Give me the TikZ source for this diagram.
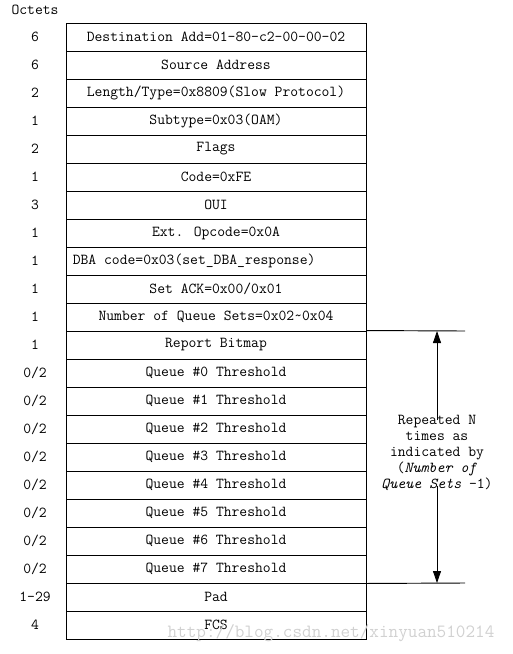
\documentclass[tikz,border=0pt]{standalone}
\usetikzlibrary{arrows.meta}
\begin{document}
\begin{tikzpicture}[x=0.75pt,y=-0.75pt,
  lbl/.style={font=\fontsize{11.4}{12}\ttfamily, inner sep=0pt},
  field/.style={draw=black, line width=0.7pt, minimum width=225pt, minimum height=21pt, inner sep=0pt, font=\fontsize{11.4}{12}\ttfamily},
  conn/.style={line width=0.7pt},
  arr/.style={line width=0.6pt, -{Triangle[length=9pt,width=6pt]}}]
\useasboundingbox (0,0) rectangle (512,654);
\node[lbl] (oct) at (35,10) {Octets};
\foreach \i/\o/\t in {
  1/6/{Destination Add=01-80-c2-00-00-02},
  2/6/{Source Address},
  3/2/{Length/Type=0x8809(Slow Protocol)},
  4/1/{Subtype=0x03(OAM)},
  5/2/{Flags},
  6/1/{Code=0xFE},
  7/3/{OUI},
  8/1/{Ext. Opcode=0x0A},
  9/1/{},
  10/1/{Set ACK=0x00/0x01},
  11/1/{Number of Queue Sets=0x02\textasciitilde0x04},
  12/1/{Report Bitmap},
  13/0\slash2/{Queue \#0 Threshold},
  14/0\slash2/{Queue \#1 Threshold},
  15/0\slash2/{Queue \#2 Threshold},
  16/0\slash2/{Queue \#3 Threshold},
  17/0\slash2/{Queue \#4 Threshold},
  18/0\slash2/{Queue \#5 Threshold},
  19/0\slash2/{Queue \#6 Threshold},
  20/0\slash2/{Queue \#7 Threshold},
  21/1-29/{Pad},
  22/4/{FCS}}{
  \node[field] (r\i) at (216,{23+28*(\i-1)+14}) {\t};
  \node[lbl] (o\i) at (35,{23+28*(\i-1)+14}) {\o};
}
\node[lbl, anchor=west] (dba) at ([xshift=5.25pt]r9.west) {DBA code=0x03(set\_DBA\_response)};
\coordinate (ttop) at (465,331);
\coordinate (tbot) at (465,583);
\draw[conn] (r12.north east) -- (ttop);
\draw[conn] (r20.south east) -- (tbot);
\coordinate (atop) at (437,331);
\coordinate (abot) at (437,583);
\node[lbl, align=center] (rep) at (437,453) {Repeated N\\times as\\indicated by\\(\textit{Number of}\\\textit{Queue Sets} -1)};
\draw[arr] ([yshift=-4pt]rep.north) -- (atop);
\draw[arr] ([yshift=4pt]rep.south) -- (abot);
\node[font=\fontsize{14}{14}\ttfamily, text=black!18, inner sep=0pt] (wm) at (331,633) {http://blog.csdn.net/xinyuan510214};
\end{tikzpicture}
\end{document}
